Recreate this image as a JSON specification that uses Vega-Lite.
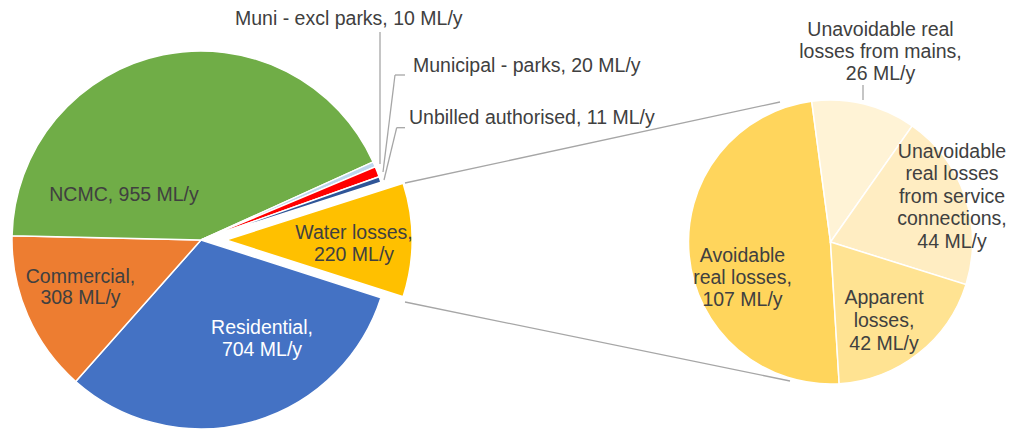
{
  "$schema": "https://vega.github.io/schema/vega-lite/v6.json",
  "width": 1011,
  "height": 430,
  "padding": 0,
  "autosize": {"type": "none"},
  "config": {
    "view": {"stroke": null},
    "font": "Liberation Sans",
    "text": {"font": "Liberation Sans", "fontSize": 19.5, "color": "#404040", "lineBreak": "\n", "lineHeight": 22},
    "rule": {"color": "#A6A6A6", "strokeWidth": 1.3}
  },
  "data": {
    "values": [
      {"pie": "total", "category": "Water losses", "caption": "Water losses,\n", "ml": 220, "slice_order": 1},
      {"pie": "total", "category": "Residential", "caption": "Residential,\n", "ml": 704, "slice_order": 2},
      {"pie": "total", "category": "Commercial", "caption": "Commercial,\n", "ml": 308, "slice_order": 3},
      {"pie": "total", "category": "NCMC", "caption": "NCMC, ", "ml": 955, "slice_order": 4},
      {"pie": "total", "category": "Muni - excl parks", "caption": "Muni - excl parks, ", "ml": 10, "slice_order": 5},
      {"pie": "total", "category": "Municipal - parks", "caption": "Municipal - parks, ", "ml": 20, "slice_order": 6},
      {"pie": "total", "category": "Unbilled authorised", "caption": "Unbilled authorised, ", "ml": 11, "slice_order": 7},
      {"pie": "losses", "category": "Avoidable real losses", "caption": "Avoidable\nreal losses,\n", "ml": 107, "slice_order": 1},
      {"pie": "losses", "category": "Unavoidable real losses from mains", "caption": "Unavoidable real\nlosses from mains,\n", "ml": 26, "slice_order": 2},
      {"pie": "losses", "category": "Unavoidable real losses from service connections", "caption": "Unavoidable\nreal losses\nfrom service\nconnections,\n", "ml": 44, "slice_order": 3},
      {"pie": "losses", "category": "Apparent losses", "caption": "Apparent\nlosses,\n", "ml": 42, "slice_order": 4}
    ]
  },
  "transform": [
    {"calculate": "datum.caption + datum.ml + ' ML/y'", "as": "label"}
  ],
  "resolve": {"scale": {"theta": "independent"}},
  "layer": [
    {
      "transform": [{"filter": "datum.pie === 'total'"}],
      "layer": [
        {
          "mark": {"type": "arc", "radius": 189, "stroke": "white", "strokeWidth": 1.5},
          "encoding": {
            "x": {"datum": 20.1, "type": "quantitative", "scale": {"domain": [0, 101.1], "nice": false, "zero": false}, "axis": null},
            "y": {"datum": 24.0, "type": "quantitative", "scale": {"domain": [0, 43], "nice": false, "zero": false, "reverse": true}, "axis": null},
            "theta": {"field": "ml", "type": "quantitative", "stack": true, "scale": {"range": [1.2606, 7.5438]}},
            "order": {"field": "slice_order", "type": "quantitative"},
            "color": {"field": "category", "type": "nominal", "legend": null, "scale": {
              "domain": ["Water losses", "Residential", "Commercial", "NCMC", "Muni - excl parks", "Municipal - parks", "Unbilled authorised", "Avoidable real losses", "Unavoidable real losses from mains", "Unavoidable real losses from service connections", "Apparent losses"],
              "range": ["#FFC000", "#4472C4", "#ED7D31", "#70AD47", "#BDD7EE", "#FF0000", "#2F5597", "#FFD55C", "#FFF3D6", "#FFEDC2", "#FFE392"]}},
            "opacity": {"condition": {"test": "datum.category === 'Water losses'", "value": 0}, "value": 1}
          }
        },
        {
          "mark": {"type": "arc", "radius": 186, "stroke": "white", "strokeWidth": 1.5},
          "encoding": {
            "x": {"datum": 22.6, "type": "quantitative", "scale": {"domain": [0, 101.1], "nice": false, "zero": false}, "axis": null},
            "y": {"datum": 24.0, "type": "quantitative", "scale": {"domain": [0, 43], "nice": false, "zero": false, "reverse": true}, "axis": null},
            "theta": {"field": "ml", "type": "quantitative", "stack": true, "scale": {"range": [1.2606, 7.5438]}},
            "order": {"field": "slice_order", "type": "quantitative"},
            "color": {"field": "category", "type": "nominal", "legend": null},
            "opacity": {"condition": {"test": "datum.category === 'Water losses'", "value": 1}, "value": 0}
          }
        }
      ]
    },
    {
      "transform": [{"filter": "datum.pie === 'losses'"}],
      "mark": {"type": "arc", "radius": 142, "stroke": "white", "strokeWidth": 1.5},
      "encoding": {
        "x": {"datum": 83.05, "type": "quantitative", "scale": {"domain": [0, 101.1], "nice": false, "zero": false}, "axis": null},
        "y": {"datum": 24.2, "type": "quantitative", "scale": {"domain": [0, 43], "nice": false, "zero": false, "reverse": true}, "axis": null},
        "theta": {"field": "ml", "type": "quantitative", "stack": true, "scale": {"range": [3.0805, 9.3637]}},
        "order": {"field": "slice_order", "type": "quantitative"},
        "color": {"field": "category", "type": "nominal", "legend": null}
      }
    },
    {
      "transform": [{"filter": "datum.category === 'Water losses'"}],
      "mark": {"type": "rule"},
      "encoding": {
        "x": {"datum": 40.5, "type": "quantitative"}, "y": {"datum": 18.3, "type": "quantitative"},
        "x2": {"datum": 78.0}, "y2": {"datum": 10.2}
      }
    },
    {
      "transform": [{"filter": "datum.category === 'Water losses'"}],
      "mark": {"type": "rule"},
      "encoding": {
        "x": {"datum": 40.5, "type": "quantitative"}, "y": {"datum": 30.2, "type": "quantitative"},
        "x2": {"datum": 79.0}, "y2": {"datum": 38.1}
      }
    },
    {
      "transform": [{"filter": "datum.category === 'Muni - excl parks'"}],
      "mark": {"type": "rule"},
      "encoding": {
        "x": {"datum": 38.0, "type": "quantitative"}, "y": {"datum": 3.2, "type": "quantitative"},
        "x2": {"datum": 38.0}, "y2": {"datum": 16.4}
      }
    },
    {
      "transform": [{"filter": "datum.category === 'Municipal - parks'"}],
      "mark": {"type": "rule"},
      "encoding": {
        "x": {"datum": 40.5, "type": "quantitative"}, "y": {"datum": 7.5, "type": "quantitative"},
        "x2": {"datum": 39.5}, "y2": {"datum": 7.5}
      }
    },
    {
      "transform": [{"filter": "datum.category === 'Municipal - parks'"}],
      "mark": {"type": "rule"},
      "encoding": {
        "x": {"datum": 39.5, "type": "quantitative"}, "y": {"datum": 7.5, "type": "quantitative"},
        "x2": {"datum": 38.3}, "y2": {"datum": 17.2}
      }
    },
    {
      "transform": [{"filter": "datum.category === 'Unbilled authorised'"}],
      "mark": {"type": "rule"},
      "encoding": {
        "x": {"datum": 40.5, "type": "quantitative"}, "y": {"datum": 12.77, "type": "quantitative"},
        "x2": {"datum": 39.67}, "y2": {"datum": 12.77}
      }
    },
    {
      "transform": [{"filter": "datum.category === 'Unbilled authorised'"}],
      "mark": {"type": "rule"},
      "encoding": {
        "x": {"datum": 39.67, "type": "quantitative"}, "y": {"datum": 12.77, "type": "quantitative"},
        "x2": {"datum": 38.4}, "y2": {"datum": 18.0}
      }
    },
    {
      "transform": [{"filter": "datum.category === 'Unavoidable real losses from mains'"}],
      "mark": {"type": "rule"},
      "encoding": {
        "x": {"datum": 86.3, "type": "quantitative"}, "y": {"datum": 8.5, "type": "quantitative"},
        "x2": {"datum": 86.3}, "y2": {"datum": 10.0}
      }
    },
    {
      "transform": [{"filter": "datum.category === 'NCMC'"}],
      "mark": {"type": "text"},
      "encoding": {"x": {"datum": 12.4, "type": "quantitative"}, "y": {"datum": 19.5, "type": "quantitative"}, "text": {"field": "label"}}
    },
    {
      "transform": [{"filter": "datum.category === 'Commercial'"}],
      "mark": {"type": "text", "lineHeight": 20.5},
      "encoding": {"x": {"datum": 8.05, "type": "quantitative"}, "y": {"datum": 27.7, "type": "quantitative"}, "text": {"field": "label"}}
    },
    {
      "transform": [{"filter": "datum.category === 'Residential'"}],
      "mark": {"type": "text", "color": "white"},
      "encoding": {"x": {"datum": 26.2, "type": "quantitative"}, "y": {"datum": 32.8, "type": "quantitative"}, "text": {"field": "label"}}
    },
    {
      "transform": [{"filter": "datum.category === 'Water losses'"}],
      "mark": {"type": "text"},
      "encoding": {"x": {"datum": 35.4, "type": "quantitative"}, "y": {"datum": 23.25, "type": "quantitative"}, "text": {"field": "label"}}
    },
    {
      "transform": [{"filter": "datum.category === 'Muni - excl parks'"}],
      "mark": {"type": "text", "align": "left"},
      "encoding": {"x": {"datum": 23.5, "type": "quantitative"}, "y": {"datum": 1.9, "type": "quantitative"}, "text": {"field": "label"}}
    },
    {
      "transform": [{"filter": "datum.category === 'Municipal - parks'"}],
      "mark": {"type": "text", "align": "left"},
      "encoding": {"x": {"datum": 41.3, "type": "quantitative"}, "y": {"datum": 6.6, "type": "quantitative"}, "text": {"field": "label"}}
    },
    {
      "transform": [{"filter": "datum.category === 'Unbilled authorised'"}],
      "mark": {"type": "text", "align": "left"},
      "encoding": {"x": {"datum": 40.9, "type": "quantitative"}, "y": {"datum": 11.75, "type": "quantitative"}, "text": {"field": "label"}}
    },
    {
      "transform": [{"filter": "datum.category === 'Unavoidable real losses from mains'"}],
      "mark": {"type": "text"},
      "encoding": {"x": {"datum": 88.05, "type": "quantitative"}, "y": {"datum": 3.0, "type": "quantitative"}, "text": {"field": "label"}}
    },
    {
      "transform": [{"filter": "datum.category === 'Unavoidable real losses from service connections'"}],
      "mark": {"type": "text", "lineHeight": 22.5},
      "encoding": {"x": {"datum": 95.2, "type": "quantitative"}, "y": {"datum": 15.17, "type": "quantitative"}, "text": {"field": "label"}}
    },
    {
      "transform": [{"filter": "datum.category === 'Apparent losses'"}],
      "mark": {"type": "text", "lineHeight": 23},
      "encoding": {"x": {"datum": 88.4, "type": "quantitative"}, "y": {"datum": 29.83, "type": "quantitative"}, "text": {"field": "label"}}
    },
    {
      "transform": [{"filter": "datum.category === 'Avoidable real losses'"}],
      "mark": {"type": "text"},
      "encoding": {"x": {"datum": 74.25, "type": "quantitative"}, "y": {"datum": 25.6, "type": "quantitative"}, "text": {"field": "label"}}
    }
  ]
}
